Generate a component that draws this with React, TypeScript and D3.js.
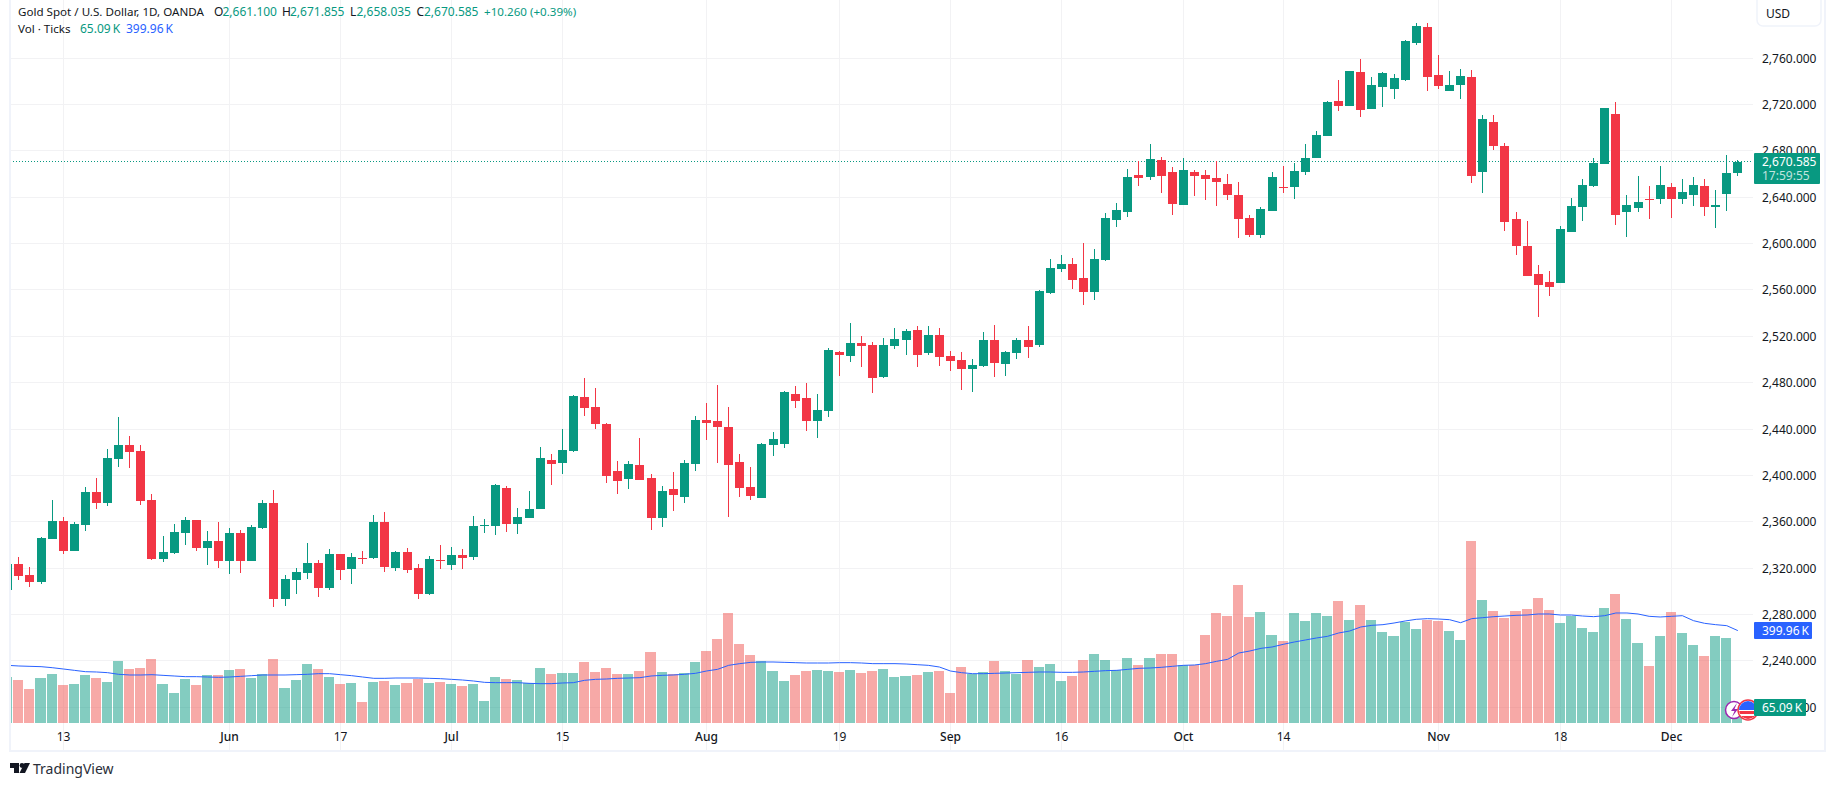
import React from 'react';
import * as d3 from 'd3';

const UP = '#089981';
const DOWN = '#F23645';
const VOL_DOWN = '#EF5350';
const BLUE = '#2962FF';
const GRID = '#f2f2f4';
const BORDER = '#f0f3fa';
const INK = '#131722';
const FONT = '"Noto Sans", sans-serif';

const WIDTH = 1835;
const HEIGHT = 786;
const PLOT_LEFT = 10;
const PLOT_RIGHT = 1753;
const AXIS_BOTTOM = 750;
const VOL_BASE = 723;
const TITLE_SIZE = 11.6;
const TEXT_SIZE = 12;

// daily candles, May 2024 to 10 Dec 2024
const opens = [
  2301.0, 2323.5, 2314.0, 2307.9, 2345.0, 2360.6, 2334.7, 2357.1, 2385.6, 2376.1,
  2414.1, 2426.2, 2421.0, 2378.7, 2327.8, 2333.0, 2350.2, 2361.4, 2337.3, 2343.3,
  2326.1, 2350.2, 2326.1, 2354.2, 2376.1, 2293.3, 2309.7, 2315.7, 2324.3, 2302.8,
  2332.1, 2319.2, 2328.6, 2328.6, 2359.7, 2320.0, 2333.8, 2320.0, 2297.6, 2326.9,
  2322.6, 2331.3, 2329.5, 2356.3, 2356.3, 2389.1, 2358.0, 2363.2, 2371.0, 2413.2,
  2410.7, 2421.0, 2467.6, 2459.0, 2444.3, 2403.7, 2396.8, 2408.9, 2397.7, 2363.2,
  2388.2, 2381.3, 2409.8, 2447.8, 2446.9, 2441.7, 2411.5, 2389.9, 2380.4, 2426.2,
  2427.0, 2470.2, 2466.7, 2446.9, 2455.5, 2506.4, 2503.0, 2514.2, 2512.5, 2484.9,
  2511.6, 2516.8, 2525.4, 2505.6, 2521.1, 2503.0, 2499.5, 2491.8, 2494.4, 2516.8,
  2496.1, 2505.6, 2516.8, 2512.5, 2557.4, 2578.0, 2582.4, 2570.3, 2558.2, 2585.8,
  2620.4, 2627.3, 2659.2, 2657.4, 2672.1, 2661.8, 2633.3, 2661.8, 2659.2, 2656.6,
  2651.4, 2641.9, 2622.1, 2607.4, 2628.1, 2648.8, 2648.8, 2661.8, 2673.8, 2692.8,
  2723.0, 2718.7, 2748.1, 2716.1, 2735.1, 2733.4, 2741.2, 2773.1, 2786.9, 2745.5,
  2731.7, 2736.8, 2743.8, 2661.8, 2704.9, 2684.2, 2621.2, 2597.9, 2573.7, 2566.8,
  2566.0, 2610.0, 2631.6, 2649.7, 2668.7, 2711.8, 2627.2, 2630.7, 2638.5, 2638.5,
  2648.8, 2638.5, 2641.9, 2649.7, 2631.6, 2642.8, 2661.1,
];

const highs = [
  2326.0, 2329.5, 2320.9, 2346.8, 2378.7, 2364.0, 2359.7, 2389.9, 2397.7, 2422.7,
  2450.3, 2433.9, 2426.2, 2383.9, 2347.6, 2358.0, 2364.0, 2361.4, 2351.9, 2359.7,
  2354.5, 2352.8, 2357.1, 2378.7, 2387.3, 2314.0, 2320.0, 2341.6, 2326.9, 2336.4,
  2332.1, 2333.0, 2334.7, 2365.8, 2368.3, 2334.7, 2337.3, 2323.5, 2330.4, 2339.9,
  2338.1, 2336.4, 2364.9, 2362.3, 2392.5, 2390.8, 2371.8, 2386.5, 2424.5, 2418.4,
  2440.0, 2469.3, 2484.0, 2475.4, 2445.2, 2412.4, 2412.4, 2432.2, 2401.2, 2390.8,
  2402.9, 2413.2, 2451.2, 2462.4, 2478.0, 2459.0, 2418.4, 2407.2, 2427.9, 2437.4,
  2472.8, 2477.1, 2479.7, 2470.2, 2509.9, 2507.3, 2531.5, 2520.2, 2515.1, 2518.5,
  2527.1, 2526.3, 2528.9, 2528.9, 2527.1, 2507.3, 2506.4, 2500.4, 2523.7, 2529.7,
  2507.3, 2518.5, 2528.9, 2560.0, 2586.7, 2590.1, 2587.5, 2600.5, 2595.3, 2626.4,
  2635.0, 2664.3, 2671.3, 2686.0, 2674.7, 2666.1, 2673.9, 2663.5, 2663.5, 2671.3,
  2660.1, 2653.2, 2624.7, 2631.6, 2661.8, 2666.9, 2669.6, 2686.0, 2697.1, 2723.0,
  2741.2, 2748.9, 2759.3, 2743.8, 2748.1, 2746.3, 2775.7, 2790.4, 2790.4, 2762.7,
  2748.9, 2750.7, 2749.8, 2711.0, 2711.0, 2686.8, 2627.2, 2619.5, 2581.5, 2576.3,
  2615.2, 2639.3, 2655.7, 2673.8, 2717.0, 2722.2, 2641.9, 2658.3, 2649.7, 2666.9,
  2652.3, 2655.7, 2657.5, 2655.7, 2646.2, 2676.4, 2671.855,
];

const lows = [
  2299.0, 2309.7, 2303.6, 2306.2, 2345.0, 2332.1, 2334.7, 2351.9, 2370.9, 2373.5,
  2407.2, 2406.3, 2374.4, 2326.9, 2325.2, 2332.1, 2339.9, 2334.7, 2322.6, 2320.0,
  2314.8, 2315.7, 2326.1, 2353.7, 2286.4, 2287.2, 2297.6, 2310.5, 2295.0, 2301.0,
  2309.7, 2306.2, 2323.5, 2327.8, 2316.6, 2317.4, 2315.7, 2293.3, 2296.7, 2319.2,
  2318.3, 2319.2, 2326.9, 2350.2, 2348.5, 2351.1, 2349.4, 2363.2, 2371.0, 2391.7,
  2401.2, 2420.1, 2451.2, 2440.0, 2393.4, 2383.9, 2388.2, 2396.0, 2352.8, 2355.4,
  2369.2, 2376.1, 2403.7, 2430.5, 2410.7, 2364.1, 2381.3, 2378.7, 2380.4, 2416.7,
  2423.6, 2458.1, 2438.3, 2432.2, 2450.4, 2485.7, 2497.8, 2493.5, 2471.1, 2484.0,
  2509.0, 2503.8, 2493.5, 2503.8, 2494.4, 2490.0, 2473.6, 2471.9, 2493.5, 2484.9,
  2485.7, 2500.4, 2501.2, 2510.7, 2556.5, 2575.5, 2560.8, 2547.0, 2551.3, 2585.0,
  2614.3, 2623.0, 2649.7, 2654.9, 2643.7, 2624.7, 2633.3, 2641.1, 2637.6, 2632.4,
  2637.6, 2604.8, 2605.7, 2604.8, 2628.1, 2643.7, 2638.5, 2659.2, 2673.8, 2692.8,
  2714.4, 2718.7, 2709.2, 2716.1, 2717.9, 2724.8, 2740.3, 2771.4, 2731.7, 2733.4,
  2731.7, 2724.8, 2652.3, 2643.6, 2680.8, 2610.8, 2590.1, 2572.0, 2536.6, 2554.8,
  2566.0, 2610.0, 2619.5, 2648.8, 2668.7, 2616.0, 2605.7, 2627.2, 2621.2, 2634.2,
  2622.1, 2634.2, 2632.4, 2623.8, 2613.4, 2628.1, 2658.035,
];

const closes = [
  2323.5, 2313.1, 2307.9, 2345.9, 2360.6, 2334.7, 2358.0, 2385.6, 2376.1, 2414.9,
  2426.2, 2420.1, 2377.8, 2327.8, 2333.8, 2351.1, 2361.4, 2337.3, 2343.3, 2326.1,
  2350.2, 2326.1, 2355.4, 2376.1, 2293.3, 2310.5, 2316.6, 2324.3, 2302.8, 2332.1,
  2318.3, 2329.5, 2327.8, 2359.7, 2320.9, 2333.8, 2318.3, 2297.6, 2327.8, 2326.1,
  2331.2, 2328.7, 2356.3, 2357.1, 2391.7, 2358.0, 2364.1, 2371.0, 2415.0, 2409.8,
  2421.9, 2468.5, 2458.1, 2444.3, 2399.4, 2395.1, 2409.8, 2396.0, 2363.2, 2386.5,
  2383.0, 2410.7, 2447.8, 2445.2, 2441.7, 2408.9, 2389.1, 2382.2, 2427.0, 2431.4,
  2471.9, 2464.2, 2446.9, 2456.4, 2508.2, 2503.8, 2514.2, 2511.6, 2484.0, 2512.5,
  2517.7, 2524.6, 2503.8, 2521.1, 2502.1, 2498.7, 2491.8, 2495.2, 2516.8, 2496.9,
  2506.4, 2516.8, 2510.7, 2559.1, 2578.9, 2582.4, 2568.6, 2558.2, 2586.7, 2622.1,
  2629.0, 2657.4, 2656.6, 2673.0, 2658.3, 2634.2, 2663.5, 2658.3, 2655.8, 2653.2,
  2641.9, 2621.2, 2607.4, 2629.9, 2657.4, 2647.9, 2662.7, 2673.9, 2693.7, 2722.2,
  2718.7, 2748.9, 2715.3, 2736.8, 2747.2, 2742.9, 2774.8, 2787.8, 2743.8, 2736.0,
  2736.8, 2744.6, 2658.3, 2707.5, 2684.2, 2618.6, 2597.9, 2572.0, 2564.2, 2562.5,
  2612.6, 2632.4, 2650.5, 2669.5, 2717.0, 2624.7, 2633.3, 2635.9, 2637.6, 2650.5,
  2638.5, 2644.5, 2650.5, 2631.6, 2633.3, 2660.9, 2670.585,
];

// volume and its moving average, thousands of ticks
const volumes = [
  199.1, 186.1, 147.2, 194.8, 212.1, 164.5, 168.8, 207.8, 194.8, 177.5,
  268.4, 233.8, 238.1, 277.1, 168.8, 129.9, 190.5, 164.5, 207.8, 207.8,
  229.4, 233.8, 194.8, 212.1, 277.1, 151.5, 186.1, 255.4, 233.8, 199.1,
  168.8, 173.2, 90.9, 177.5, 181.8, 164.5, 173.2, 190.5, 173.2, 177.5,
  168.8, 158.7, 167.4, 93.8, 197.7, 189.0, 184.7, 171.7, 236.7, 210.7,
  215.0, 215.0, 262.6, 219.3, 236.7, 210.7, 210.7, 223.7, 305.9, 219.3,
  210.7, 215.0, 262.6, 310.2, 362.2, 474.7, 340.5, 292.9, 267.0, 223.7,
  180.4, 206.3, 223.7, 228.0, 223.7, 219.3, 228.0, 215.0, 223.7, 232.3,
  197.7, 202.0, 206.3, 219.3, 223.7, 128.4, 241.0, 210.7, 219.3, 267.0,
  223.7, 210.7, 271.3, 241.0, 254.0, 180.4, 202.0, 271.3, 297.3, 271.3,
  228.0, 279.9, 249.6, 279.9, 297.3, 297.3, 249.6, 249.6, 379.5, 474.7,
  461.8, 596.0, 457.4, 479.1, 379.5, 353.5, 474.7, 440.1, 474.7, 461.8,
  526.7, 444.4, 509.4, 444.4, 392.5, 375.2, 435.8, 405.5, 444.4, 440.1,
  396.8, 357.9, 786.4, 531.0, 483.4, 453.1, 483.4, 492.1, 539.7, 487.7,
  431.5, 461.8, 409.8, 392.5, 496.4, 557.0, 448.8, 344.9, 245.3, 375.2,
  479.1, 388.2, 336.2, 288.6, 375.2, 366.5, 65.09,
];

const volumeMa = [
  249.6, 246.8, 245.3, 243.9, 239.5, 233.8, 228.0, 222.2, 220.8, 217.9,
  210.7, 207.8, 207.8, 209.2, 206.3, 203.5, 200.6, 200.6, 199.1, 197.7,
  199.1, 202.0, 204.9, 207.8, 207.8, 207.8, 209.2, 210.7, 213.6, 213.6,
  209.2, 204.9, 199.1, 193.4, 193.4, 194.8, 194.8, 194.8, 193.4, 191.9,
  189.0, 186.1, 181.8, 176.0, 174.6, 174.6, 174.6, 171.7, 170.3, 170.3,
  173.2, 174.6, 184.7, 189.0, 190.5, 193.4, 194.8, 196.2, 203.5, 206.3,
  207.8, 210.7, 215.0, 225.1, 232.3, 249.6, 256.9, 262.6, 264.1, 264.1,
  262.6, 261.2, 259.7, 259.7, 259.7, 261.2, 261.2, 259.7, 256.9, 256.9,
  256.9, 255.4, 252.5, 249.6, 242.4, 225.1, 217.9, 213.6, 213.6, 215.0,
  216.5, 217.9, 219.3, 220.8, 220.8, 219.3, 219.3, 220.8, 223.7, 226.6,
  228.0, 232.3, 236.7, 238.1, 241.0, 245.3, 249.6, 251.1, 256.9, 267.0,
  275.6, 303.0, 311.7, 323.2, 329.0, 340.5, 350.6, 359.3, 368.0, 375.2,
  389.6, 398.3, 415.6, 422.8, 425.7, 432.9, 441.6, 448.8, 451.7, 450.2,
  447.3, 434.3, 451.7, 456.0, 460.3, 463.2, 466.1, 467.5, 471.9, 471.9,
  467.5, 467.5, 463.2, 460.3, 464.6, 476.2, 476.2, 471.9, 461.8, 458.9,
  461.8, 464.6, 443.0, 431.5, 425.7, 421.4, 399.96,
];

const priceTicks = [2760, 2720, 2680, 2640, 2600, 2560, 2520, 2480, 2440, 2400, 2360, 2320, 2280, 2240, 2200];
const timeTicks: [number, string][] = [
  [5, '13'], [20, 'Jun'], [30, '17'], [40, 'Jul'], [50, '15'], [63, 'Aug'], [75, '19'],
  [85, 'Sep'], [95, '16'], [106, 'Oct'], [115, '14'], [129, 'Nov'], [140, '18'], [150, 'Dec'],
];
const months = ['Jun', 'Jul', 'Aug', 'Sep', 'Oct', 'Nov', 'Dec'];

const x = d3.scaleLinear().domain([0, 156]).range([7.8, 1737.84]);
const y = d3.scaleLinear().domain([2760, 2240]).range([58.2, 660.8]);
const vy = d3.scaleLinear().domain([0, 800]).range([VOL_BASE, VOL_BASE - 184.8]);
const px = (i: number) => Math.floor(x(i));
const fmt = d3.format(',.3f');

const lastClose = closes[closes.length - 1];
const volLabel = '65.09\u2009K';
const maLabel = '399.96\u2009K';
const maLine = d3.line<number>().x((_, i) => x(i)).y(d => vy(d)).curve(d3.curveLinear);

const App = () => (
  <svg
    width={WIDTH}
    height={HEIGHT}
    viewBox={`0 0 ${WIDTH} ${HEIGHT}`}
    style={{ position: 'absolute', left: 0, top: 0, display: 'block', background: '#fff' }}
    fontFamily={FONT}
  >
    <defs>
      <clipPath id="plot">
        <rect x={PLOT_LEFT} y={0} width={PLOT_RIGHT - PLOT_LEFT} height={AXIS_BOTTOM} />
      </clipPath>
      <clipPath id="flag">
        <circle cx={1748} cy={710} r={9} />
      </clipPath>
    </defs>

    {/* grid */}
    <g fill={GRID}>
      {priceTicks.map(t => (
        <rect key={t} x={PLOT_LEFT} y={Math.floor(y(t))} width={PLOT_RIGHT - PLOT_LEFT} height={1} />
      ))}
      {timeTicks.map(([i]) => (
        <rect key={i} x={px(i)} y={0} width={1} height={AXIS_BOTTOM} />
      ))}
    </g>

    <g clipPath="url(#plot)">
      {/* volume */}
      <g fillOpacity={0.5}>
        {volumes.map((v, i) => {
          const left = i === 0 ? 0 : px(i - 1) + 6;
          const top = Math.round(vy(v));
          return (
            <rect
              key={i}
              x={left}
              y={top}
              width={px(i) + 5 - left}
              height={VOL_BASE - top}
              fill={closes[i] >= opens[i] ? UP : VOL_DOWN}
            />
          );
        })}
      </g>
      <path d={maLine(volumeMa) ?? ''} fill="none" stroke={BLUE} strokeWidth={1} />

      {/* last price line */}
      <line
        x1={PLOT_LEFT}
        x2={PLOT_RIGHT}
        y1={Math.floor(y(lastClose)) + 0.5}
        y2={Math.floor(y(lastClose)) + 0.5}
        stroke={UP}
        strokeDasharray="1 2"
      />

      {/* candles */}
      {opens.map((o, i) => {
        const c = closes[i];
        const color = c >= o ? UP : DOWN;
        const top = Math.round(y(Math.max(o, c)));
        const bottom = Math.round(y(Math.min(o, c)));
        const wickTop = Math.round(y(highs[i]));
        const wickBottom = Math.round(y(lows[i]));
        return (
          <g key={i} fill={color}>
            <rect x={px(i)} y={wickTop} width={1} height={Math.max(1, wickBottom - wickTop)} />
            <rect x={px(i) - 4} y={top} width={9} height={Math.max(1, bottom - top)} />
          </g>
        );
      })}
    </g>

    {/* frame */}
    <rect x={9} y={0} width={2} height={752} fill={BORDER} />
    <rect x={9} y={750} width={1817} height={2} fill={BORDER} />
    <rect x={1824} y={0} width={2} height={752} fill={BORDER} />

    {/* legend */}
    <g fontSize={TEXT_SIZE} dominantBaseline="central" fill={INK}>
      <text x={18} y={11} fontSize={TITLE_SIZE}>Gold Spot / U.S. Dollar, 1D, OANDA</text>
      <text x={214} y={11}>O</text>
      <text x={222.5} y={11} fill={UP}>{fmt(opens[156])}</text>
      <text x={282} y={11}>H</text>
      <text x={290} y={11} fill={UP}>{fmt(highs[156])}</text>
      <text x={350} y={11}>L</text>
      <text x={356.5} y={11} fill={UP}>{fmt(lows[156])}</text>
      <text x={416.5} y={11}>C</text>
      <text x={424} y={11} fill={UP}>{fmt(closes[156])}</text>
      <text x={484} y={11} fill={UP} fontSize={TITLE_SIZE}>+10.260 (+0.39%)</text>
      <text x={18} y={28} fontSize={TITLE_SIZE}>Vol · Ticks</text>
      <text x={80} y={28} fill={UP}>{volLabel}</text>
      <text x={126} y={28} fill={BLUE}>{maLabel}</text>
    </g>

    {/* price axis */}
    <g fontSize={TEXT_SIZE} fill={INK} dominantBaseline="central">
      {priceTicks.map(t => (
        <text key={t} x={1762} y={Math.floor(y(t)) + 0.5}>{fmt(t)}</text>
      ))}
    </g>
    <rect x={1757} y={-6} width={64} height={32} rx={6} fill="#fff" stroke={BORDER} strokeWidth={1.5} />
    <text x={1766} y={13} fontSize={TEXT_SIZE} fill={INK} dominantBaseline="central">USD</text>

    {/* time axis */}
    <g fontSize={TEXT_SIZE} fill={INK} textAnchor="middle" dominantBaseline="central">
      {timeTicks.map(([i, label]) => (
        <text key={i} x={px(i) + 0.5} y={736.5} fontWeight={months.includes(label) ? 500 : 400}>{label}</text>
      ))}
    </g>

    {/* event badges on the last bar */}
    <circle cx={1734} cy={710} r={8.5} fill="#fff" stroke="#9c27b0" strokeWidth={1.5} />
    <path d="M1737 703 L1731 711 L1734.5 711 L1732 717 L1738 709 L1734.5 709 Z" fill="#9c27b0" />
    <circle cx={1748} cy={710} r={10} fill="#fff" stroke={DOWN} strokeWidth={1.5} />
    <g clipPath="url(#flag)">
      <rect x={1739} y={701} width={18} height={9} fill={BLUE} />
      <rect x={1739} y={711} width={18} height={3} fill={DOWN} />
      <rect x={1739} y={716} width={18} height={3} fill={DOWN} />
    </g>

    {/* value labels */}
    <rect x={1754} y={153} width={66} height={31} rx={1} fill={UP} />
    <text x={1762} y={161} fontSize={TEXT_SIZE} fill="#fff" dominantBaseline="central">{fmt(lastClose)}</text>
    <text x={1762} y={175} fontSize={TEXT_SIZE} fill="#fff" fillOpacity={0.75} dominantBaseline="central">17:59:55</text>
    <rect x={1754} y={622} width={58} height={17} rx={1} fill={BLUE} />
    <text x={1762} y={630.5} fontSize={TEXT_SIZE} fill="#fff" dominantBaseline="central">{maLabel}</text>
    <rect x={1754} y={699} width={52} height={17} rx={1} fill={UP} />
    <text x={1762} y={707.5} fontSize={TEXT_SIZE} fill="#fff" dominantBaseline="central">{volLabel}</text>

    {/* footer logo */}
    <g fill="#131722">
      <path d="M10 763 H19 V773 H14 V768 H10 Z" />
      <circle cx={22} cy={765.5} r={2.4} />
      <path d="M24.5 763 H30 L25 773 H19.5 Z" />
    </g>
    <text x={33} y={768} fontSize={14} fill="#2a2e39" dominantBaseline="central">TradingView</text>
  </svg>
);

export default App;
